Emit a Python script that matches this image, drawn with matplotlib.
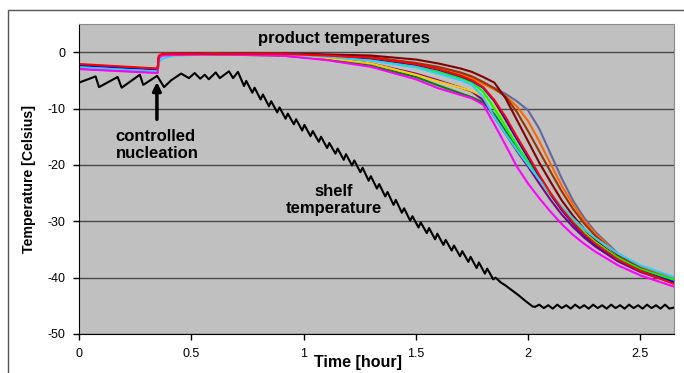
import matplotlib
matplotlib.use('Agg')
import matplotlib.pyplot as plt
from matplotlib.patches import Rectangle
from matplotlib.ticker import FuncFormatter

plt.rcParams['axes.unicode_minus'] = False

# shelf temperature (black sawtooth)
shelf_t = [0.0, 0.074, 0.089, 0.172, 0.19, 0.271, 0.286, 0.348, 0.379, 0.41, 0.455, 0.49, 0.515, 0.54,
           0.56, 0.578, 0.609, 0.627, 0.668, 0.686,
           0.708, 0.735, 0.745, 0.772, 0.782, 0.809, 0.819, 0.846, 0.856, 0.883, 0.893, 0.920,
           0.930, 0.957, 0.967, 0.994, 1.004, 1.031, 1.041, 1.068, 1.078, 1.105, 1.115, 1.142,
           1.152, 1.179, 1.189, 1.216, 1.226, 1.253, 1.263, 1.290, 1.300, 1.327, 1.337, 1.364,
           1.374, 1.401, 1.411, 1.438, 1.448, 1.475, 1.485, 1.512, 1.522, 1.549, 1.559, 1.586,
           1.596, 1.623, 1.633, 1.660, 1.670, 1.697, 1.707, 1.734, 1.744, 1.771, 1.781, 1.808,
           1.818, 1.845, 1.855, 1.88, 1.90, 1.93, 1.96, 1.99, 2.02,
           2.03, 2.05, 2.07, 2.09, 2.11, 2.13, 2.15, 2.17, 2.19, 2.21, 2.23, 2.25, 2.27, 2.29,
           2.31, 2.33, 2.35, 2.37, 2.39, 2.41, 2.43, 2.45, 2.47, 2.49, 2.51, 2.53, 2.55, 2.57,
           2.59, 2.61, 2.63, 2.65]
shelf_T = [-5.4, -4.3, -6.2, -4.4, -6.3, -4.0, -5.8, -4.2, -6.2, -5.0, -3.8, -4.6, -3.7, -4.7,
           -4.0, -4.8, -3.6, -4.6, -3.4, -4.6,
           -3.5, -6.0, -5.1, -7.2, -6.3, -8.4, -7.5, -9.6, -8.7, -10.7, -9.8, -11.8,
           -10.9, -12.8, -11.9, -13.9, -12.9, -14.9, -14.0, -15.9, -15.0, -17.0, -16.1, -18.0,
           -17.1, -19.1, -18.1, -20.1, -19.2, -21.3, -20.5, -22.8, -22.0, -24.2, -23.4, -25.6,
           -24.8, -27.1, -26.2, -28.5, -27.7, -29.9, -29.1, -31.1, -30.2, -32.1, -31.2, -33.2,
           -32.2, -34.2, -33.3, -35.2, -34.3, -36.2, -35.3, -37.2, -36.3, -38.3, -37.3, -39.3,
           -38.4, -40.3, -40.0, -40.9, -41.4, -42.3, -43.2, -44.2, -45.1,
           -45.2, -44.8, -45.4, -44.9, -45.5, -44.8, -45.4, -44.9, -45.5, -44.8, -45.4, -44.9,
           -45.5, -44.8, -45.4, -44.9, -45.5, -44.8, -45.4, -44.9, -45.5, -44.8, -45.4, -44.9,
           -45.5, -44.8, -45.4, -44.9, -45.5, -44.8, -45.5, -45.3]

# product temperatures, common time nodes
prod_t = [0.0, 0.35, 0.356, 0.37, 0.42, 0.6, 0.9, 1.1, 1.3, 1.5, 1.6, 1.7, 1.75, 1.8, 1.85,
          1.9, 1.95, 2.0, 2.05, 2.1, 2.15, 2.2, 2.25, 2.3, 2.4, 2.5, 2.65]
slate = [-2.5, -3.3, -0.9, -0.4, -0.3, -0.2, -0.2, -0.5, -1.0, -2.1, -2.9, -3.9, -4.6, -5.5, -6.4,
         -7.4, -8.7, -10.3, -13.6, -18.0, -22.4, -26.3, -29.4, -31.9, -35.7, -38.0, -40.1]
orange = [-2.4, -3.2, -0.9, -0.4, -0.3, -0.3, -0.3, -0.6, -1.1, -2.2, -3.0, -4.0, -4.7, -5.6, -6.6,
          -7.8, -9.6, -12.2, -15.8, -19.8, -23.7, -27.0, -29.9, -32.2, -35.9, -38.2, -40.3]
brown = [-2.2, -3.0, -0.8, -0.4, -0.3, -0.3, -0.3, -0.5, -0.9, -1.9, -2.6, -3.6, -4.3, -5.3, -6.4,
         -7.9, -10.6, -14.0, -17.6, -21.2, -24.7, -27.8, -30.4, -32.6, -36.0, -38.3, -40.5]
maroon = [-2.3, -3.1, -0.8, -0.4, -0.3, -0.2, -0.2, -0.4, -0.6, -1.3, -2.0, -2.9, -3.5, -4.4, -5.4,
          -8.2, -12.0, -15.8, -19.6, -23.0, -26.3, -29.0, -31.4, -33.4, -36.5, -38.6, -40.6]
dkgreen = [-2.4, -3.2, -0.9, -0.5, -0.4, -0.4, -0.6, -1.2, -2.4, -4.4, -5.9, -7.3, -8.0, -8.9, -11.0,
           -14.0, -17.0, -19.6, -22.4, -25.1, -27.7, -30.0, -32.0, -33.7, -36.5, -38.5, -40.6]
purple = [-2.9, -3.6, -1.0, -0.5, -0.4, -0.4, -0.5, -1.0, -2.0, -3.8, -5.0, -6.3, -7.0, -8.5, -11.5,
          -14.5, -17.5, -20.3, -23.3, -26.2, -28.8, -31.0, -32.9, -34.5, -37.1, -39.0, -41.0]
gold = [-2.5, -3.3, -0.9, -0.5, -0.4, -0.3, -0.5, -1.0, -2.0, -4.0, -5.2, -6.3, -6.9, -7.8, -9.5,
        -12.3, -15.5, -18.8, -22.0, -25.0, -27.7, -30.0, -32.0, -33.7, -36.6, -38.7, -40.9]
lime = [-2.6, -3.3, -0.9, -0.5, -0.4, -0.3, -0.3, -0.7, -1.4, -2.6, -3.5, -4.6, -5.4, -7.0, -10.0,
        -13.2, -16.5, -19.5, -22.5, -25.3, -27.9, -30.1, -32.1, -33.8, -36.5, -38.5, -40.4]
blue = [-2.3, -3.1, -0.8, -0.4, -0.3, -0.3, -0.3, -0.6, -1.1, -2.2, -3.1, -4.3, -5.1, -6.3, -8.7,
        -12.0, -15.4, -18.7, -22.0, -25.2, -28.0, -30.4, -32.5, -34.2, -36.9, -38.8, -40.8]
cyan = [-2.7, -3.4, -1.8, -1.2, -0.6, -0.4, -0.4, -0.8, -1.5, -2.7, -3.8, -5.0, -5.8, -8.0, -11.5,
        -14.5, -17.3, -20.0, -22.6, -25.1, -27.4, -29.5, -31.4, -33.0, -35.7, -37.8, -39.9]
magenta = [-3.0, -3.7, -1.0, -0.6, -0.5, -0.4, -0.6, -1.4, -2.6, -4.8, -6.4, -7.6, -8.2, -9.3, -12.8,
           -16.5, -20.3, -23.3, -25.9, -28.3, -30.5, -32.4, -34.0, -35.4, -37.8, -39.6, -41.6]
red = [-2.1, -2.9, -0.6, -0.3, -0.3, -0.3, -0.3, -0.6, -1.0, -2.1, -3.0, -4.2, -5.0, -6.2, -8.5,
       -11.5, -15.0, -18.3, -21.8, -25.0, -27.8, -30.2, -32.3, -34.0, -36.8, -38.8, -41.1]

products = [(slate, '#666699'), (orange, '#FF6600'), (brown, '#993300'), (maroon, '#800000'),
            (dkgreen, '#008000'), (purple, '#800080'), (gold, '#FFCC00'), (lime, '#00FF00'),
            (blue, '#0000FF'), (cyan, '#33CCFF'), (magenta, '#FF00FF'), (red, '#FF0000')]

yticks = [-50, -40, -30, -20, -10, 0]
xticks = [0, 0.5, 1, 1.5, 2, 2.5]

font = 'Liberation Sans'
fig = plt.figure(figsize=(6.84, 3.73), dpi=100)
fig.add_artist(Rectangle((8/684., -0.5), 2, 1.5 - 10/373., transform=fig.transFigure,
                         fill=False, ec='#555555', lw=1))
ax = fig.add_axes([79/684., 39/373., 595/684., 310/373.])
ax.set_facecolor('#C0C0C0')

for vals, c in products:
    ax.plot(prod_t, vals, color=c, lw=1.5, solid_joinstyle='round')
ax.plot(shelf_t, shelf_T, color='k', lw=1.5)

ax.set_xlim(0, 2.65)
ax.set_ylim(-50, 5)
ax.set_yticks(yticks)
ax.set_xticks(xticks)
ax.xaxis.set_major_formatter(FuncFormatter(lambda v, p: '%g' % v))
ax.grid(axis='y', color='#4a4a4a', lw=1)
ax.set_axisbelow(True)
ax.tick_params(axis='x', direction='out', length=4, pad=6, labelsize=9, width=1)
ax.tick_params(axis='y', direction='out', length=4, pad=6, labelsize=9, width=1)
for lab in ax.get_xticklabels() + ax.get_yticklabels():
    lab.set_fontfamily(font)
for s in ['top', 'right']:
    ax.spines[s].set_color('#8a8a8a')

ax.set_ylabel('Temperature [Celsius]', fontsize=10.2, fontweight='bold', family=font)
ax.yaxis.set_label_coords(-0.072, 0.5)
ax.set_xlabel('Time [hour]', fontsize=11.5, fontweight='bold', family=font)
ax.xaxis.set_label_coords(0.469, -0.068)

ax.text(1.182, 2.5, 'product temperatures', ha='center', va='center',
        fontsize=12, fontweight='bold', family=font)
ax.text(0.164, -16.5, 'controlled\nnucleation', ha='left', va='center',
        fontsize=12, fontweight='bold', family=font)
ax.text(1.133, -26.2, 'shelf\ntemperature', ha='center', va='center',
        fontsize=12, fontweight='bold', family=font)
ax.annotate('', xy=(0.347, -4.8), xytext=(0.347, -12.4),
            arrowprops=dict(arrowstyle='-|>', color='k', lw=2.5, mutation_scale=12))

fig.savefig('out.png', dpi=100)
